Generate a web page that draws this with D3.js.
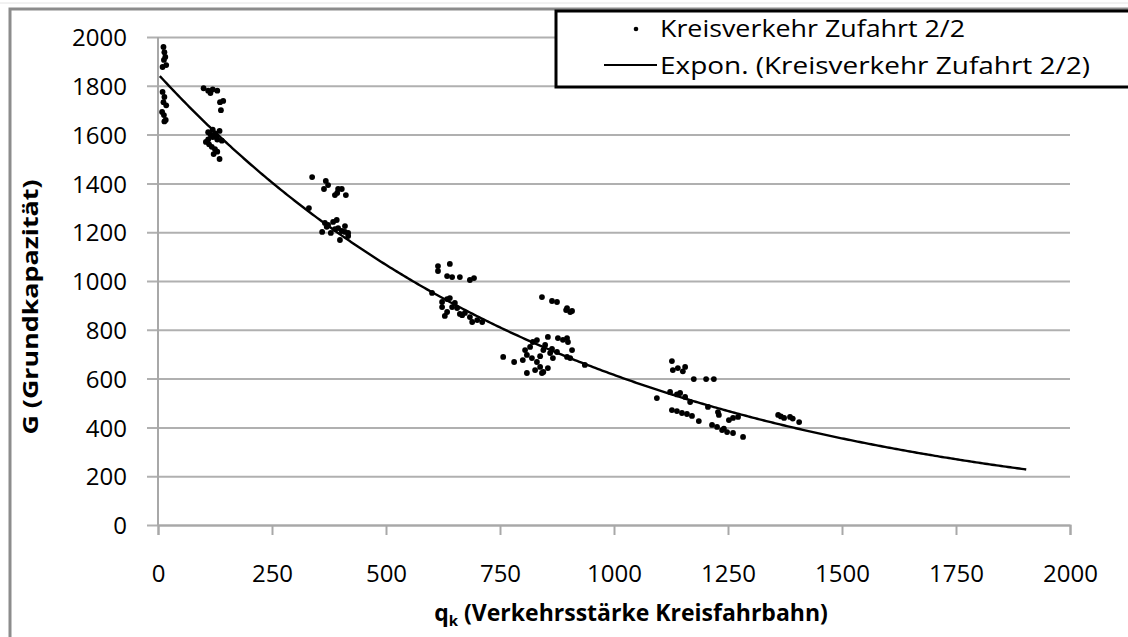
<!DOCTYPE html>
<html>
<head>
<meta charset="utf-8">
<script src="https://cdnjs.cloudflare.com/ajax/libs/d3/7.8.5/d3.min.js"></script>
<style>
  body { margin: 0; background: #fff; }
  svg text { font-family: "Open Sans", "DejaVu Sans", sans-serif; fill: #000; }
</style>
</head>
<body>
<div id="chart"></div>
<script>
var qk = [
  12, 14, 16, 13, 18, 10,
  10, 14, 12, 18, 9, 13, 17, 14,
  100, 110, 120, 130, 115, 136, 143, 138,
  110, 115, 120, 125, 130, 105, 112, 118, 125, 130, 122, 128, 140, 135, 110, 120, 135,
  338, 368, 373, 364, 393, 395, 403, 412, 388,
  331, 366, 373, 384, 392, 360, 379, 395, 403, 410, 417, 399, 410, 388, 417, 370,
  614, 614, 640, 634, 645, 662, 684, 693,
  601, 623, 634, 640, 623, 645, 656, 634, 662, 673, 629, 684, 689, 700, 711, 651, 667,
  842, 864, 875, 897, 904, 908, 895,
  757, 781, 805, 816, 822, 831, 855, 877, 897, 899, 809, 820, 831, 838, 845, 809, 827, 842, 855,
  845, 860, 866, 864, 897, 908, 904, 936, 838, 800, 849, 888, 875,
  1127, 1129, 1140, 1156, 1151, 1175, 1202, 1219,
  1094, 1123, 1145, 1156, 1167, 1206, 1228, 1230, 1261, 1272, 1252, 1138,
  1127, 1138, 1149, 1160, 1171, 1186, 1215, 1226, 1237, 1248, 1261, 1283, 1241,
  1360, 1366, 1386, 1392, 1406, 1373
];
var G = [
  1959, 1938, 1918, 1906, 1885, 1877,
  1775, 1754, 1733, 1720, 1693, 1680, 1660, 1654,
  1790, 1780, 1785, 1780, 1770, 1733, 1738, 1700,
  1610, 1600, 1590, 1605, 1580, 1570, 1560, 1550, 1540, 1530, 1520, 1590, 1575, 1500, 1580, 1620, 1615,
  1426, 1410, 1393, 1377, 1361, 1377, 1377, 1352, 1352,
  1299, 1238, 1230, 1242, 1250, 1201, 1197, 1217, 1205, 1201, 1184, 1168, 1225, 1213, 1197, 1222,
  1061, 1041, 1070, 1020, 1016, 1016, 1004, 1012,
  951, 914, 926, 930, 893, 893, 889, 873, 865, 869, 857, 852, 832, 840, 832, 910, 860,
  934, 918, 914, 889, 873, 877, 881,
  689, 668, 717, 730, 750, 758, 771, 766, 766, 750, 697, 684, 668, 648, 627, 623, 635, 623, 643,
  717, 705, 684, 722, 689, 717, 684, 656, 692, 676, 738, 759, 709,
  672, 635, 643, 648, 630, 598, 598, 598,
  520, 545, 541, 525, 504, 484, 463, 451, 439, 443, 430, 535,
  471, 467, 459, 455, 447, 426, 410, 402, 389, 381, 377, 361, 395,
  451, 445, 443, 436, 422, 439
];

// exponential trend line G = a * exp(b * qk)
var trendA = 1848;
var trendB = -0.0011;
var trendFrom = 4;
var trendTo = 1905;

var xTicks = [0, 250, 500, 750, 1000, 1250, 1500, 1750, 2000];
var yTicks = [0, 200, 400, 600, 800, 1000, 1200, 1400, 1600, 1800, 2000];

var seriesName = "Kreisverkehr Zufahrt 2/2";
var trendName = "Expon. (Kreisverkehr Zufahrt 2/2)";

var width = 1128, height = 637;
var mLeft = 158, mRight = 1070, mTop = 37, mBottom = 525;

var svg = d3.select("#chart").append("svg")
    .attr("width", width)
    .attr("height", height);

// outer chart frame (only top and left visible)
svg.append("line").attr("x1", 0).attr("x2", width).attr("y1", 3).attr("y2", 3)
    .style("stroke", "#e4e4e4").style("stroke-width", 1);
svg.append("path")
    .attr("d", "M10," + height + "V9H" + width)
    .style("fill", "none").style("stroke", "#8c8c8c").style("stroke-width", 3);

var x = d3.scaleLinear().domain([0, 2000]).range([mLeft, mRight]);
var y = d3.scaleLinear().domain([0, 2000]).range([mBottom, mTop]);

// gridlines + y labels
var yAxis = svg.append("g")
    .attr("transform", "translate(" + (mLeft - 11) + ",0)")
    .call(d3.axisLeft(y).tickValues(yTicks).tickSize(-(mRight - mLeft + 11)).tickPadding(20).tickFormat(d3.format("d")));
yAxis.select(".domain").remove();
yAxis.selectAll(".tick line").style("stroke", "#b0b0b0").style("stroke-width", 2);
yAxis.selectAll(".tick text").style("font-size", "24px").attr("dy", "0.36em");

// y axis line
svg.append("line")
    .attr("x1", mLeft).attr("x2", mLeft).attr("y1", mTop).attr("y2", mBottom)
    .style("stroke", "#a8a8a8").style("stroke-width", 2);

// x axis
var xAxis = svg.append("g")
    .attr("transform", "translate(0," + mBottom + ")")
    .call(d3.axisBottom(x).tickValues(xTicks).tickSize(10).tickPadding(30).tickFormat(d3.format("d")));
xAxis.select(".domain").style("stroke", "#a8a8a8").style("stroke-width", 2);
xAxis.selectAll(".tick line").style("stroke", "#a8a8a8").style("stroke-width", 2);
xAxis.selectAll(".tick text").style("font-size", "24px");

// trend line
var trendX = d3.range(trendFrom, trendTo + 1, 5);
var line = d3.line()
    .x(function(d) { return x(d) })
    .y(function(d) { return y(trendA * Math.exp(trendB * d)) });
svg.append("path")
    .datum(trendX)
    .attr("d", line)
    .style("fill", "none")
    .style("stroke", "#000")
    .style("stroke-width", 2.4);

// points
svg.append("g").selectAll("circle")
    .data(qk)
    .enter().append("circle")
    .attr("cx", function(d) { return x(d) })
    .attr("cy", function(d, i) { return y(G[i]) })
    .attr("r", 2.9)
    .style("fill", "#000");

// axis titles
svg.append("text")
    .attr("transform", "translate(38,307) rotate(-90)")
    .attr("text-anchor", "middle")
    .attr("textLength", 255)
    .attr("lengthAdjust", "spacingAndGlyphs")
    .style("font-size", "22px")
    .style("font-weight", "bold")
    .text("G (Grundkapazität)");

var xt = svg.append("text")
    .attr("x", 631)
    .attr("y", 621)
    .attr("text-anchor", "middle")
    .style("font-size", "23px")
    .style("font-weight", "bold");
xt.append("tspan").text("q");
xt.append("tspan").attr("dy", 5).style("font-size", "15px").text("k");
xt.append("tspan").attr("dy", -5).text(" (Verkehrsstärke Kreisfahrbahn)");

// legend
var legend = svg.append("g");
legend.append("rect")
    .attr("x", 556).attr("y", 11)
    .attr("width", 600).attr("height", 76)
    .style("fill", "#fff")
    .style("stroke", "#000")
    .style("stroke-width", 3);
legend.append("circle")
    .attr("cx", 636).attr("cy", 29).attr("r", 2.3)
    .style("fill", "#000");
legend.append("text")
    .attr("x", 660).attr("y", 37)
    .attr("textLength", 305)
    .attr("lengthAdjust", "spacingAndGlyphs")
    .style("font-size", "23px")
    .text(seriesName);
legend.append("line")
    .attr("x1", 604).attr("x2", 657).attr("y1", 65).attr("y2", 65)
    .style("stroke", "#000").style("stroke-width", 2.2);
legend.append("text")
    .attr("x", 660).attr("y", 74)
    .attr("textLength", 430)
    .attr("lengthAdjust", "spacingAndGlyphs")
    .style("font-size", "23px")
    .text(trendName);
</script>
</body>
</html>
